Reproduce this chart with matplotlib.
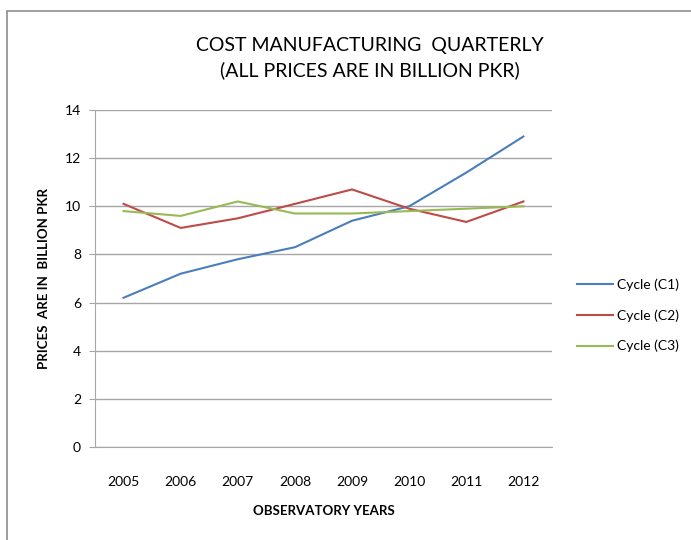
"""Line chart: quarterly manufacturing cost by cycle."""

import matplotlib
matplotlib.use('Agg')
import matplotlib.pyplot as plt
from matplotlib.patches import Rectangle

years = ['2005', '2006', '2007', '2008', '2009', '2010', '2011', '2012']
cycle_c1 = [6.2, 7.2, 7.8, 8.3, 9.4, 10.0, 11.4, 12.9]
cycle_c2 = [10.1, 9.1, 9.5, 10.1, 10.7, 9.9, 9.35, 10.2]
cycle_c3 = [9.8, 9.6, 10.2, 9.7, 9.7, 9.8, 9.9, 10.0]
series_names = ['Cycle (C1)', 'Cycle (C2)', 'Cycle (C3)']
colors = ['#4a7ebb', '#be4b48', '#98b954']

plt.rcParams['font.family'] = ['Lato', 'DejaVu Sans']

fig = plt.figure(figsize=(6.91, 5.40), dpi=100)
# outer chart border (right and bottom cut off like the original)
fig.patches.append(Rectangle((7 / 691, -0.1), 1.1, 1 - 11 / 540 + 0.1,
                             transform=fig.transFigure, fill=False,
                             edgecolor='#8c8c8c', linewidth=1.2))

ax = fig.add_axes([95 / 691, 1 - 447 / 540, (552 - 95) / 691, (447 - 110) / 540])
x = range(len(years))
for vals, name, c in zip([cycle_c1, cycle_c2, cycle_c3], series_names, colors):
    ax.plot(x, vals, color=c, linewidth=1.5, label=name)

ax.set_xlim(-0.5, len(years) - 0.5)
ax.set_ylim(0, 14)
ax.set_yticks(range(0, 15, 2))
ax.set_xticks(list(x))
ax.set_xticklabels(years)
ax.grid(axis='y', color='#a6a6a6', linewidth=1)
ax.set_axisbelow(True)
for side in ['top', 'right']:
    ax.spines[side].set_visible(False)
ax.spines['left'].set_color('#a6a6a6')
ax.spines['bottom'].set_color('#a6a6a6')
ax.tick_params(axis='y', length=4, color='#a6a6a6', labelsize=10, pad=6)
ax.tick_params(axis='x', length=0, labelsize=10, pad=21)

ax.set_xlabel('OBSERVATORY YEARS', fontweight='bold', fontsize=9.5, labelpad=12)
ax.set_ylabel('PRICES  ARE IN  BILLION PKR', fontweight='bold', fontsize=9.5, labelpad=11)

fig.text(370 / 691, 1 - 58 / 540,
         'COST MANUFACTURING  QUARTERLY\n(ALL PRICES ARE IN BILLION PKR)',
         ha='center', va='center', fontsize=14, linespacing=1.5)

ax.legend(loc='center left', bbox_to_anchor=(1.027, 0.39), frameon=False,
          fontsize=10, handlelength=2.6, labelspacing=1.3, handletextpad=0.3)

fig.savefig('out.png', dpi=100)
